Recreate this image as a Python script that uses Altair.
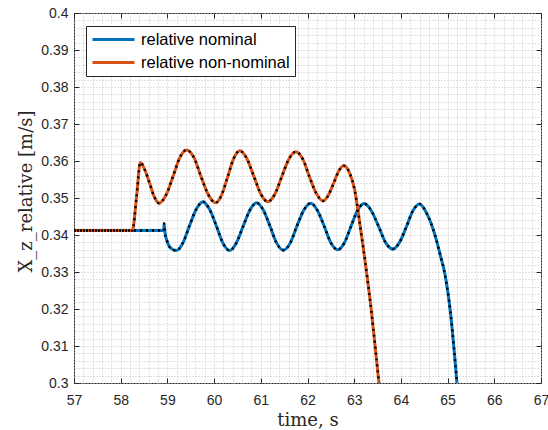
import altair as alt
import pandas as pd

# ---- data ----
nominal_t = [57.0, 58.925, 58.93, 58.95, 58.99, 59.06, 59.19,
             59.33, 59.47, 59.62, 59.76, 59.90, 60.05, 60.19, 60.33,
             60.47, 60.62, 60.77, 60.91, 61.05, 61.20, 61.34, 61.48,
             61.63, 61.77, 61.92, 62.07, 62.21, 62.36, 62.50, 62.65,
             62.79, 62.93, 63.07, 63.21, 63.36, 63.52, 63.67, 63.83,
             63.97, 64.12, 64.26, 64.40,
             64.55, 64.72, 64.85, 64.94, 65.06, 65.20]
nominal_v = [0.3412, 0.3412, 0.3431, 0.3405, 0.3385, 0.3366, 0.3358,
             0.3378, 0.3424, 0.3470, 0.3490, 0.3470, 0.3424, 0.3378, 0.3358,
             0.3377, 0.3423, 0.3468, 0.3487, 0.3468, 0.3423, 0.3378, 0.3359,
             0.3378, 0.3423, 0.3467, 0.3486, 0.3467, 0.3423, 0.3379, 0.3360,
             0.3379, 0.3423, 0.3466, 0.3485, 0.3467, 0.3424, 0.3380, 0.3362,
             0.3380, 0.3423, 0.3466, 0.3484,
             0.3459, 0.3404, 0.3342, 0.3296, 0.3192, 0.3000]

nonnominal_t = [57.0, 58.25, 58.34, 58.42, 58.52, 58.62, 58.72, 58.82,
                58.97, 59.12, 59.26, 59.41, 59.57, 59.72, 59.88, 60.03,
                60.16, 60.29, 60.42, 60.55, 60.70, 60.85, 61.00, 61.15,
                61.30, 61.45, 61.60, 61.75, 61.90, 62.04, 62.19, 62.33,
                62.44, 62.56, 62.67, 62.78, 62.90, 63.01, 63.12,
                63.20, 63.37, 63.53]
nonnominal_v = [0.3412, 0.3412, 0.3504, 0.3596, 0.3575, 0.3540, 0.3503, 0.3486,
                0.3508, 0.3558, 0.3608, 0.3630, 0.3609, 0.3558, 0.3508, 0.3487,
                0.3508, 0.3557, 0.3607, 0.3628, 0.3607, 0.3559, 0.3511, 0.3490,
                0.3510, 0.3558, 0.3605, 0.3625, 0.3605, 0.3558, 0.3512, 0.3492,
                0.3506, 0.3540, 0.3573, 0.3587, 0.3568, 0.3522, 0.3431,
                0.3360, 0.3192, 0.3000]

series_names = ["relative nominal", "relative non-nominal"]
series_colors = ["#0072BD", "#D95319"]

x_major = [57, 58, 59, 60, 61, 62, 63, 64, 65, 66, 67]
y_major = [0.30, 0.31, 0.32, 0.33, 0.34, 0.35, 0.36, 0.37, 0.38, 0.39, 0.40]
x_minor = [round(57 + 0.2 * i, 1) for i in range(51)]
y_minor = [round(0.3 + 0.002 * i, 3) for i in range(51)]

df = pd.concat([
    pd.DataFrame({"t": nominal_t, "v": nominal_v, "series": series_names[0]}),
    pd.DataFrame({"t": nonnominal_t, "v": nonnominal_v, "series": series_names[1]}),
], ignore_index=True)

AX = "#262626"
TICK_FONT = "Liberation Sans"
TITLE_FONT = "DejaVu Serif"

xs = alt.Scale(domain=[57, 67], nice=False, zero=False)
ys = alt.Scale(domain=[0.3, 0.4], nice=False, zero=False)

base = alt.Chart(df)

# minor dotted grid
grid = base.mark_point(opacity=0).encode(
    x=alt.X("t:Q", scale=xs, axis=alt.Axis(orient="top", values=x_minor, grid=True, labels=False,
                                             ticks=False, domain=False, title=None,
                                             gridColor="#c4c4c4", gridDash=[1, 2], gridWidth=1)),
    y=alt.Y("v:Q", scale=ys, axis=alt.Axis(orient="right", values=y_minor, grid=True, labels=False,
                                             ticks=False, domain=False, title=None,
                                             gridColor="#c4c4c4", gridDash=[1, 2], gridWidth=1)),
)

# inward ticks on top / right
mirror = base.mark_point(opacity=0).encode(
    x=alt.X("t:Q", scale=xs, axis=alt.Axis(orient="top", values=x_major, grid=False, labels=False,
                                             ticks=True, tickSize=5, offset=-5, domain=False,
                                             tickColor=AX, title=None)),
    y=alt.Y("v:Q", scale=ys, axis=alt.Axis(orient="right", values=y_major, grid=False, labels=False,
                                             ticks=True, tickSize=5, offset=-5, domain=False,
                                             tickColor=AX, title=None)),
)

lines = base.mark_line(strokeWidth=3, interpolate="monotone", clip=True).encode(
    x=alt.X("t:Q", scale=xs, axis=alt.Axis(
        orient="bottom", values=x_major, format="d", grid=False, domain=False,
        ticks=True, tickSize=5, offset=-5, tickColor=AX, labelPadding=10,
        labelFlush=False, labelOverlap=False,
        labelFont=TICK_FONT, labelFontSize=14, labelColor=AX,
        title="time, s", titleFont=TITLE_FONT, titleFontSize=18, titleFontWeight="normal",
        titleColor=AX, titleBaseline="alphabetic", titleY=47)),
    y=alt.Y("v:Q", scale=ys, axis=alt.Axis(
        orient="left", values=y_major, format=".2~f", grid=False, domain=False,
        ticks=True, tickSize=5, offset=-5, tickColor=AX, labelPadding=6,
        labelFlush=False, labelOverlap=False,
        labelFont=TICK_FONT, labelFontSize=14, labelColor=AX,
        title="X_z_relative [m/s]", titleFont=TITLE_FONT, titleFontSize=18,
        titleFontWeight="normal", titleColor=AX, titleAngle=270,
        titleBaseline="alphabetic", titleX=-48, titleY=178)),
    color=alt.Color("series:N", scale=alt.Scale(domain=series_names, range=series_colors),
                    legend=alt.Legend(
                        title=None, orient="none", legendX=12, legendY=13,
                        symbolType="stroke", symbolSize=1764, symbolStrokeWidth=3,
                        clipHeight=17,
                        labelFont=TICK_FONT, labelFontSize=16.5, labelColor="#000000",
                        labelOffset=5, rowPadding=6, padding=5,
                        strokeColor=AX, fillColor="white", cornerRadius=0)),
)

ov_nom = base.transform_filter(alt.datum.series == series_names[0]).mark_line(
    color="black", strokeWidth=2.5, strokeDash=[2, 4], strokeDashOffset=0,
    interpolate="monotone", clip=True).encode(
    x=alt.X("t:Q", scale=xs, axis=None), y=alt.Y("v:Q", scale=ys, axis=None))

ov_non = base.transform_filter(alt.datum.series == series_names[1]).mark_line(
    color="black", strokeWidth=2.5, strokeDash=[2, 4], strokeDashOffset=3,
    interpolate="monotone", clip=True).encode(
    x=alt.X("t:Q", scale=xs, axis=None), y=alt.Y("v:Q", scale=ys, axis=None))

chart = alt.layer(grid, mirror, lines, ov_nom, ov_non).resolve_axis(
    x="independent", y="independent"
).properties(
    width=467, height=370,
    autosize=alt.AutoSizeParams(type="none"),
    padding={"left": 74, "top": 13, "right": 7, "bottom": 47},
    background="white",
).configure_view(stroke=AX, strokeWidth=1)

chart.save("out.html", embed_options={"renderer": "svg", "actions": False})
